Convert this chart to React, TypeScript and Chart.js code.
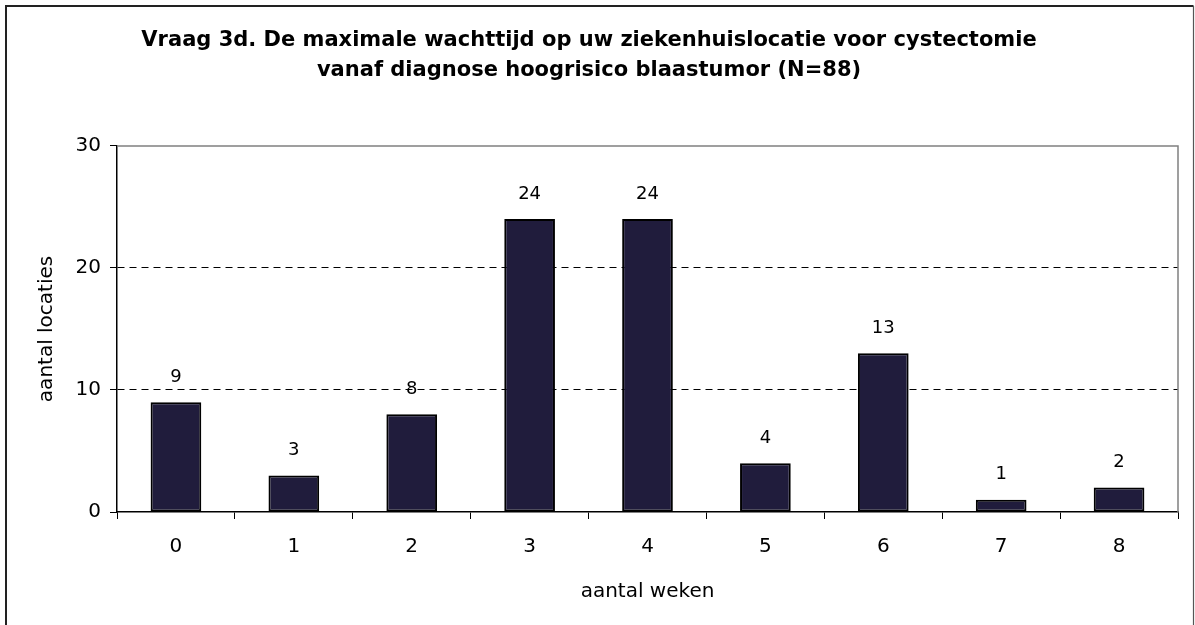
import React, { useEffect, useRef } from "react";
import { Chart, registerables } from "chart.js";

Chart.register(...registerables);

const titleLines = [
  "Vraag 3d. De maximale wachttijd op uw ziekenhuislocatie voor cystectomie",
  "vanaf diagnose hoogrisico blaastumor (N=88)",
];
const weekLabels = ["0", "1", "2", "3", "4", "5", "6", "7", "8"];
const locationCounts = [9, 3, 8, 24, 24, 4, 13, 1, 2];
const yMin = 0;
const yMax = 30;
const yStep = 10;
const xAxisTitle = "aantal weken";
const yAxisTitle = "aantal locaties";

const FONT = "'DejaVu Sans', 'Liberation Sans', Arial, sans-serif";

const framePlugin = {
  id: "frame",
  afterDraw(chart: any) {
    const { ctx, chartArea } = chart;
    ctx.save();
    // outer frame
    ctx.strokeStyle = "#222";
    ctx.lineWidth = 2;
    ctx.beginPath();
    ctx.moveTo(6, 625);
    ctx.lineTo(6, 6);
    ctx.lineTo(1193.5, 6);
    ctx.stroke();
    ctx.lineWidth = 1.2;
    ctx.strokeStyle = "#555";
    ctx.beginPath();
    ctx.moveTo(1193.5, 6);
    ctx.lineTo(1193.5, 625);
    ctx.stroke();
    // plot area top & right
    ctx.strokeStyle = "#808080";
    ctx.lineWidth = 1.5;
    ctx.beginPath();
    ctx.moveTo(chartArea.left, chartArea.top);
    ctx.lineTo(chartArea.right, chartArea.top);
    ctx.lineTo(chartArea.right, chartArea.bottom);
    ctx.stroke();
    ctx.restore();
  },
};

const valueLabelPlugin = {
  id: "valueLabels",
  afterDatasetsDraw(chart: any) {
    const { ctx } = chart;
    const meta = chart.getDatasetMeta(0);
    const values = chart.data.datasets[0].data as number[];
    ctx.save();
    ctx.font = `18px ${FONT}`;
    ctx.fillStyle = "#000";
    ctx.textAlign = "center";
    ctx.textBaseline = "middle";
    meta.data.forEach((bar: any, i: number) => {
      ctx.fillText(String(values[i]), bar.x, bar.y - 25);
    });
    ctx.restore();
  },
};

export default function App() {
  const canvasRef = useRef<HTMLCanvasElement | null>(null);

  useEffect(() => {
    document.body.style.margin = "0";
    const canvas = canvasRef.current;
    if (!canvas) return;
    const chart = new Chart(canvas, {
      type: "bar",
      data: {
        labels: weekLabels,
        datasets: [
          {
            data: locationCounts,
            backgroundColor: "#201c3c",
            borderColor: "#000",
            borderWidth: 2,
            borderSkipped: false,
            categoryPercentage: 1,
            barPercentage: 0.43,
          },
        ],
      },
      options: {
        responsive: false,
        animation: false,
        devicePixelRatio: 1,
        layout: { padding: { left: 0, right: 17, top: 0, bottom: 0 } },
        plugins: {
          legend: { display: false },
          tooltip: { enabled: false },
          title: {
            display: true,
            text: titleLines,
            color: "#000",
            font: { family: FONT, size: 21, weight: "bold", lineHeight: 1.45 },
            padding: { top: 25, bottom: 60 },
          },
        },
        scales: {
          x: {
            type: "category",
            offset: true,
            grid: {
              offset: true,
              drawOnChartArea: false,
              drawTicks: true,
              tickLength: 7,
              tickColor: "#000",
              color: "#000",
            },
            border: { display: true, color: "#000", width: 1.5 },
            ticks: {
              color: "#000",
              font: { family: FONT, size: 20 },
              padding: 16,
              maxRotation: 0,
            },
            title: {
              display: true,
              text: xAxisTitle,
              color: "#000",
              font: { family: FONT, size: 20 },
              padding: { top: 0, bottom: 21 },
            },
            afterFit(scale: any) {
              scale.height = 113;
            },
          },
          y: {
            min: yMin,
            max: yMax,
            ticks: {
              stepSize: yStep,
              color: "#000",
              font: { family: FONT, size: 20 },
              padding: 9,
            },
            grid: {
              color: (ctx: any) =>
                ctx.tick && ctx.tick.value > yMin && ctx.tick.value < yMax ? "#000" : "rgba(0,0,0,0)",
              tickColor: "#000",
              tickLength: 7,
              lineWidth: 1,
            },
            border: { display: true, color: "#000", width: 1.5, dash: [7, 5] },
            title: {
              display: true,
              text: yAxisTitle,
              color: "#000",
              font: { family: FONT, size: 20 },
              padding: { top: 35, bottom: 0 },
            },
            afterFit(scale: any) {
              scale.width = 117;
            },
          },
        },
      },
      plugins: [framePlugin, valueLabelPlugin],
    });
    return () => chart.destroy();
  }, []);

  return (
    <div style={{ width: 1195, height: 625 }}>
      <canvas ref={canvasRef} width={1195} height={625} style={{ display: "block" }} />
    </div>
  );
}
